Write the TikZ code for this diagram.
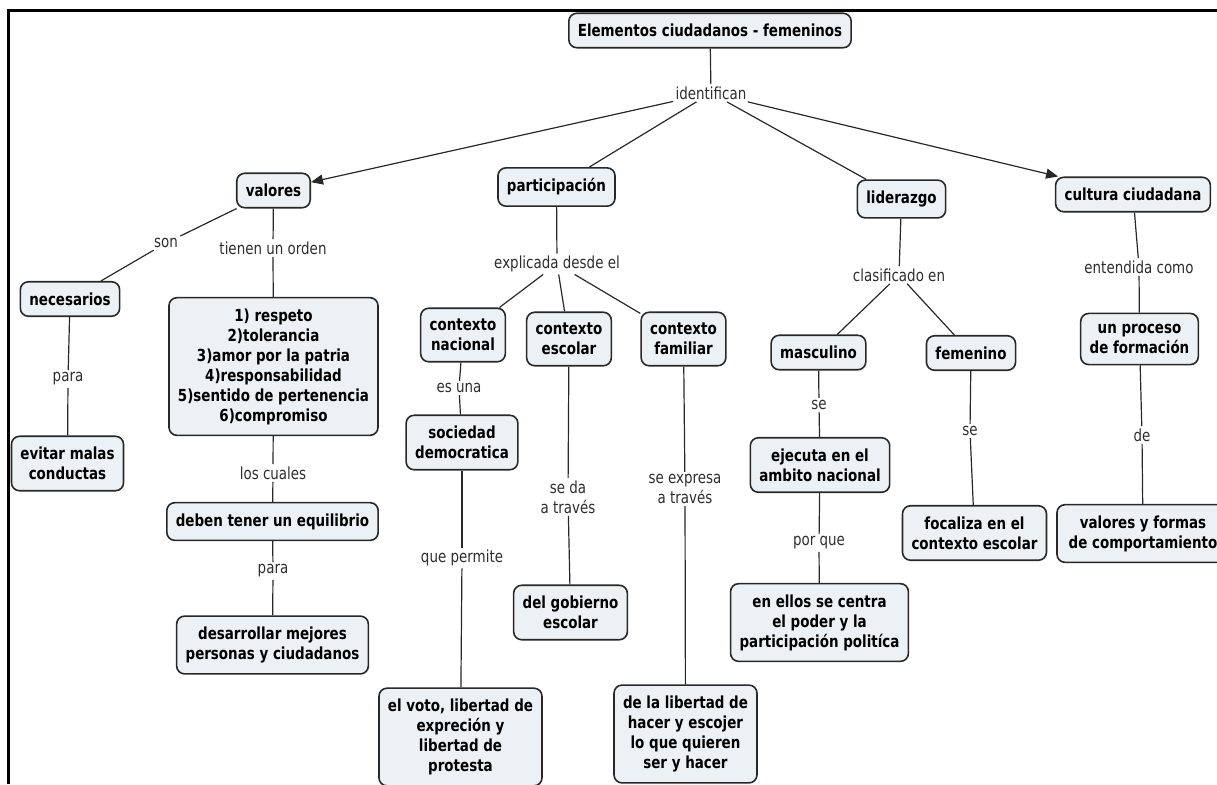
\documentclass[tikz,border=0pt]{standalone}
\usepackage{fontspec}
\setmainfont{DejaVu Sans}[FakeStretch=0.81]
\usetikzlibrary{arrows.meta}
\definecolor{cmapfill}{RGB}{235,241,244}
\definecolor{cmapline}{RGB}{40,40,40}
\definecolor{cmaptext}{RGB}{45,45,45}

\begin{document}
\begin{tikzpicture}[x=0.5pt,y=-0.5pt,
  concept/.style={draw=cmapline,fill=cmapfill,rounded corners=4pt,line width=0.8pt,inner xsep=4.5pt,inner ysep=5.4pt,align=center,font=\fontsize{8.3}{10}\selectfont\bfseries},
  linkph/.style={inner sep=1pt,align=center,text=cmaptext,font=\fontsize{8.3}{10}\selectfont},
  conn/.style={draw=cmapline,line width=0.6pt},
  headarrow/.style={-{Triangle[length=6pt,width=5pt]}}]
\useasboundingbox (0,0) rectangle (1217,784);

%Frame
\draw [line width=1.3pt] (8.5,784) -- (8.5,10.5) -- (1217,10.5);

% Concepts, row 1
\node [concept] (root) at (710,30.5) {Elementos ciudadanos - femeninos};
\node [linkph] (identifican) at (711,93) {identifican};
\node [concept] (valores) at (273.5,190.5) {valores};
\node [concept] (participacion) at (556.5,187) {participación};
\node [concept] (liderazgo) at (901.5,199) {liderazgo};
\node [concept] (cultura) at (1133,194.5) {cultura ciudadana};

% valores
\node [linkph] (son) at (166,243) {son};
\node [linkph] (orden) at (273,248) {tienen un orden};
\node [concept] (necesarios) at (70,299) {necesarios};
\node [linkph] (para1) at (68,379) {para};
\node [concept] (evitar) at (67.5,463.5) {evitar malas\\conductas};
\node [concept] (listavalores) at (273.5,366.5) {1) respeto\\2)tolerancia\\3)amor por la patria\\4)responsabilidad\\5)sentido de pertenencia\\6)compromiso};
\node [linkph] (cuales) at (273,473) {los cuales};
\node [concept] (equilibrio) at (272.5,521.5) {deben tener un equilibrio};
\node [linkph] (para2) at (273,571) {para};
\node [concept] (desarrollar) at (272.5,645) {desarrollar mejores\\personas y ciudadanos};

% participacion
\node [linkph] (explicada) at (557,264) {explicada desde el};
\node [concept] (cnacional) at (463,335) {contexto\\nacional};
\node [concept] (cescolar) at (569,339) {contexto\\escolar};
\node [concept] (cfamiliar) at (683.5,339) {contexto\\familiar};
\node [linkph] (esuna) at (459,388) {es una};
\node [concept] (sociedad) at (462,442.5) {sociedad\\democratica};
\node [linkph] (permite) at (462,558) {que permite};
\node [concept] (voto) at (460.5,737) {el voto, libertad de\\expreción y\\libertad de\\protesta};
\node [linkph] (seda) at (568,497) {se da\\a través};
\node [concept] (gobierno) at (570.5,612.5) {del gobierno\\escolar};
\node [linkph] (seexpresa) at (685,489) {se expresa\\a través};
\node [concept] (libertad) at (685.5,734) {de la libertad de\\hacer y escojer\\lo que quieren\\ser y hacer};

% liderazgo
\node [linkph] (clasificado) at (899,275) {clasificado en};
\node [concept] (masculino) at (818.5,352.5) {masculino};
\node [concept] (femenino) at (971,353) {femenino};
\node [linkph] (se1) at (819,405) {se};
\node [concept] (ejecuta) at (820,465) {ejecuta en el\\ambito nacional};
\node [linkph] (porque) at (819,543) {por que};
\node [concept] (centra) at (819.5,622.5) {en ellos se centra\\el poder y la\\participación politíca};
\node [linkph] (se2) at (970,431) {se};
\node [concept] (focaliza) at (974.5,533) {focaliza en el\\contexto escolar};

% cultura ciudadana
\node [linkph] (entendida) at (1139,267) {entendida como};
\node [concept] (proceso) at (1139.5,339) {un proceso\\de formación};
\node [linkph] (de) at (1142,435) {de};
\node [concept,minimum width=86pt] (formas) at (1143,533.5) {valores y formas\\de comportamiento};

%Straight Lines
\draw [conn] (root) -- (identifican);
\draw [conn,headarrow] (identifican) -- (valores);
\draw [conn] (identifican) -- (participacion);
\draw [conn] (identifican) -- (liderazgo);
\draw [conn,headarrow] (identifican) -- (cultura);

\draw [conn] (valores) -- (son);
\draw [conn] (son) -- (necesarios);
\draw [conn] (necesarios) -- (para1);
\draw [conn] (para1) -- (evitar);
\draw [conn] (valores) -- (orden);
\draw [conn] (orden) -- (listavalores);
\draw [conn] (listavalores) -- (cuales);
\draw [conn] (cuales) -- (equilibrio);
\draw [conn] (equilibrio) -- (para2);
\draw [conn] (para2) -- (desarrollar);

\draw [conn] (participacion) -- (explicada);
\draw [conn] (explicada) -- (cnacional);
\draw [conn] (explicada) -- (cescolar);
\draw [conn] (explicada) -- (cfamiliar);
\draw [conn] (cnacional) -- (esuna);
\draw [conn] (esuna) -- (sociedad);
\draw [conn] (sociedad) -- (permite);
\draw [conn] (permite) -- (voto);
\draw [conn] (cescolar) -- (seda);
\draw [conn] (seda) -- (gobierno);
\draw [conn] (cfamiliar) -- (seexpresa);
\draw [conn] (seexpresa) -- (libertad);

\draw [conn] (liderazgo) -- (clasificado);
\draw [conn] (clasificado) -- (masculino);
\draw [conn] (clasificado) -- (femenino);
\draw [conn] (masculino) -- (se1);
\draw [conn] (se1) -- (ejecuta);
\draw [conn] (ejecuta) -- (porque);
\draw [conn] (porque) -- (centra);
\draw [conn] (femenino) -- (se2);
\draw [conn] (se2) -- (focaliza);

\draw [conn] (cultura) -- (entendida);
\draw [conn] (entendida) -- (proceso);
\draw [conn] (proceso) -- (de);
\draw [conn] (de) -- (formas);

\end{tikzpicture}
\end{document}
